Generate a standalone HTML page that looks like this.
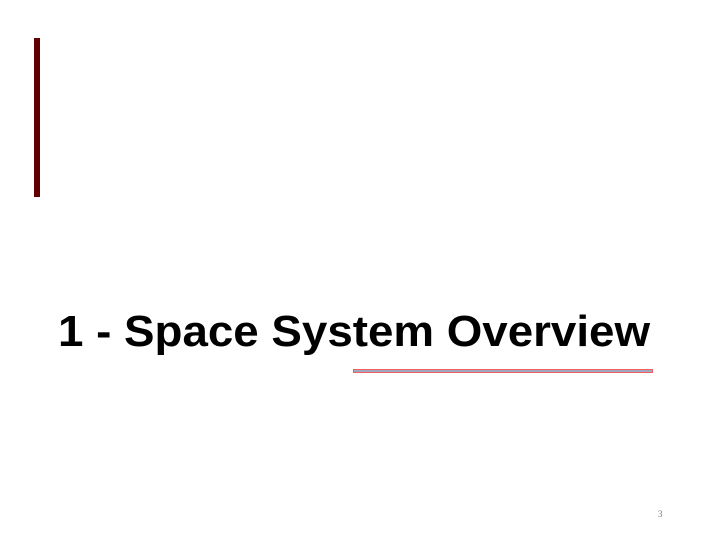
<!DOCTYPE html>
<html><head><style>
html,body{margin:0;padding:0;background:#fff;}
body{width:720px;height:540px;position:relative;overflow:hidden;}
</style></head><body>
<div style="position:absolute;left:34px;top:38px;width:6px;height:159px;background:#600000;"></div>
<svg width="720" height="540" style="position:absolute;left:0;top:0">
<text x="58" y="346" font-family="Liberation Sans, sans-serif" font-weight="bold" font-size="44" textLength="592" lengthAdjust="spacingAndGlyphs" fill="#000">1 - Space System Overview</text>
<rect x="353.5" y="369.5" width="299" height="3" fill="#a0a8c0" stroke="#f06060" stroke-width="1"/>
<text x="658" y="517" font-family="Liberation Serif, serif" font-size="9" fill="#777">3</text>
</svg>
</body></html>
